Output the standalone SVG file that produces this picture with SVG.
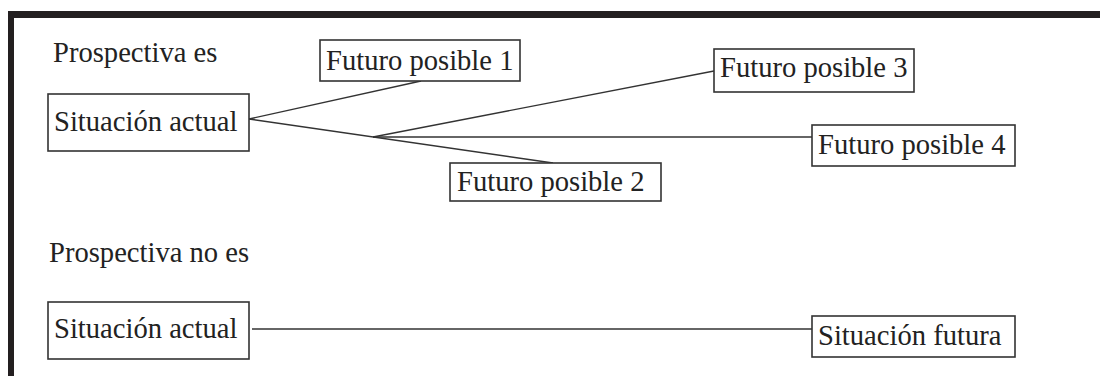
<svg xmlns="http://www.w3.org/2000/svg" width="1100" height="376" viewBox="0 0 1100 376">
<style>
.box{fill:#fff;stroke:#333;stroke-width:1.6}
.lbl{font-family:"Liberation Serif","Times New Roman",serif;font-size:28.6px;fill:#222}
.ttl{font-family:"Liberation Serif","Times New Roman",serif;font-size:28.6px;fill:#222}
.con{stroke:#333;stroke-width:1.4;fill:none}
.frame{fill:#231f20}
</style>
<rect width="1100" height="376" fill="#fff"/>
<g id="frame">
<rect class="frame" x="8" y="11" width="1092" height="7"/>
<rect class="frame" x="8" y="11" width="6" height="365"/>
</g>
<text class="ttl" x="53" y="62">Prospectiva es</text>
<text class="ttl" x="49" y="262">Prospectiva no es</text>
<g id="connectors">
<line class="con" x1="249" y1="119" x2="421" y2="81"/>
<line class="con" x1="249" y1="119" x2="553" y2="163"/>
<line class="con" x1="373" y1="137" x2="714" y2="71"/>
<line class="con" x1="373" y1="137" x2="812" y2="137"/>
<line class="con" x1="252" y1="329" x2="812" y2="329"/>
</g>
<g id="sa1"><rect class="box" x="48" y="94" width="201" height="57"/><text class="lbl" x="54" y="131">Situación actual</text></g>
<g id="fp1"><rect class="box" x="320" y="40" width="200" height="41"/><text class="lbl" x="326" y="70">Futuro posible 1</text></g>
<g id="fp2"><rect class="box" x="450" y="163" width="211" height="38"/><text class="lbl" x="457" y="191">Futuro posible 2</text></g>
<g id="fp3"><rect class="box" x="714" y="49" width="200" height="43"/><text class="lbl" x="720" y="77">Futuro posible 3</text></g>
<g id="fp4"><rect class="box" x="812" y="125" width="203" height="41"/><text class="lbl" x="818" y="154">Futuro posible 4</text></g>
<g id="sa2"><rect class="box" x="48" y="302" width="201" height="57"/><text class="lbl" x="54" y="338">Situación actual</text></g>
<g id="sf"><rect class="box" x="812" y="316" width="203" height="41"/><text class="lbl" x="818" y="345">Situación futura</text></g>
</svg>
